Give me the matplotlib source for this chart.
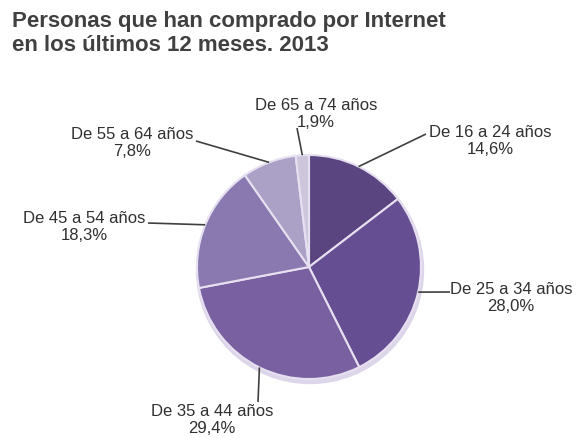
import numpy as np
import matplotlib.pyplot as plt
from matplotlib.patches import Circle

# data
groups = ["De 16 a 24 años", "De 25 a 34 años", "De 35 a 44 años",
          "De 45 a 54 años", "De 55 a 64 años", "De 65 a 74 años"]
shares = [14.6, 28.0, 29.4, 18.3, 7.8, 1.9]
title = "Personas que han comprado por Internet\nen los últimos 12 meses. 2013"

# styling / layout (pixel coords, y measured from top)
colors = ["#5a4580", "#654f92", "#7961a1", "#8a78b0", "#aba0c6", "#cdc6dc"]
W, H = 576, 438
center_px = (309, 267)
radius = 112
# where the leader line meets the label, and the label block centre
label_anchor = [(426, 134), (450, 292), (258, 402), (148, 223), (196, 141), (297, 128)]
label_center = [(490, 141), (511, 298), (212, 420), (84, 227), (132, 143), (316, 114)]

plt.rcParams['font.family'] = ['Liberation Sans', 'DejaVu Sans']

fig = plt.figure(figsize=(W / 100, H / 100), dpi=100)
ax = fig.add_axes([0, 0, 1, 1])

cx, cy = center_px[0], H - center_px[1]
# soft shadow under the pie
ax.add_patch(Circle((cx + 1, cy - 3), radius + 1.5, color="#ddd6ea", zorder=0))
wedges, _ = ax.pie(shares, colors=colors, startangle=90, counterclock=False,
                   center=(cx, cy), radius=radius,
                   wedgeprops=dict(edgecolor="#e6e0f0", linewidth=1.5))
ax.set_xlim(0, W)
ax.set_ylim(0, H)
ax.set_aspect('equal')
ax.axis('off')

for w, name, val, anc, ctr in zip(wedges, groups, shares, label_anchor, label_center):
    mid = np.deg2rad((w.theta1 + w.theta2) / 2)
    ex = cx + radius * np.cos(mid)
    ey = cy + radius * np.sin(mid)
    ax.plot([ex, anc[0]], [ey, H - anc[1]], color="#404040", lw=1.2,
            solid_capstyle='butt', zorder=1)
    txt = f"{name}\n{val:.1f}".replace('.', ',') + "%"
    ax.text(ctr[0], H - ctr[1], txt, ha='center', va='center',
            multialignment='center', fontsize=12, color="#303030",
            linespacing=1.12)

fig.text(12 / W, 1 - 11 / H, title, ha='left', va='top', fontsize=16,
         fontweight='bold', color="#404040", linespacing=1.18)

fig.savefig("out.png", dpi=100, facecolor='white')
